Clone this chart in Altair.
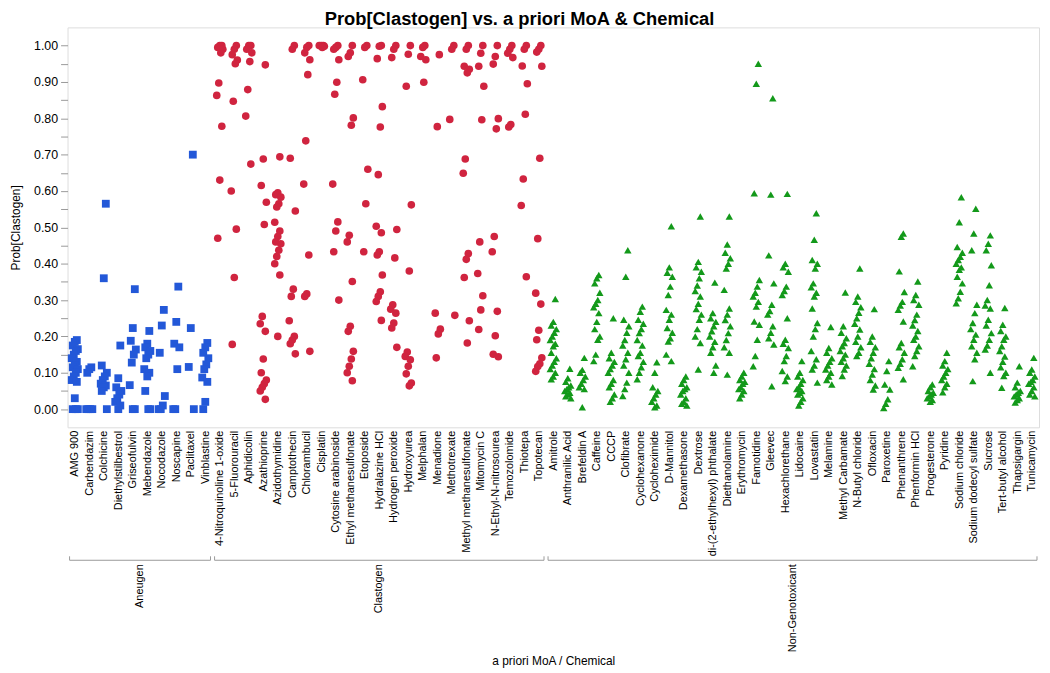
import json
import altair as alt
import pandas as pd

FONT = "Liberation Sans"

GROUPS = ["Aneugen", "Clastogen", "Non-Genotoxicant"]
COLORS = ["#2358d8", "#d0243f", "#13991a"]
SHAPES = ["square", "circle", "triangle-up"]
SIZES = [62, 56, 72]

ANEUGEN = ["AMG 900", "Carbendazim", "Colchicine", "Diethylstilbestrol", "Griseofulvin",
           "Mebendazole", "Nocodazole", "Noscapine", "Paclitaxel", "Vinblastine"]
ANEUGEN_P = [
    [0.19, 0.185, 0.175, 0.165, 0.16, 0.15, 0.14, 0.13, 0.12, 0.115, 0.11, 0.10, 0.09, 0.08, 0.075, 0.03, 0.0, 0.0, 0.0],
    [0.115, 0.11, 0.10, 0.0, 0.0, 0.0, 0.0],
    [0.565, 0.36, 0.12, 0.10, 0.09, 0.08, 0.07, 0.065, 0.06, 0.05, 0.0],
    [0.175, 0.085, 0.06, 0.05, 0.04, 0.03, 0.02, 0.01, 0.0],
    [0.33, 0.223, 0.188, 0.164, 0.15, 0.128, 0.066, 0.0, 0.0],
    [0.215, 0.18, 0.17, 0.16, 0.15, 0.14, 0.11, 0.10, 0.09, 0.05, 0.0, 0.0],
    [0.273, 0.23, 0.155, 0.036, 0.01, 0.0, 0.0],
    [0.337, 0.24, 0.18, 0.17, 0.11, 0.0, 0.0],
    [0.70, 0.223, 0.116, 0.0],
    [0.182, 0.17, 0.155, 0.14, 0.123, 0.11, 0.087, 0.075, 0.02, 0.0],
]

CLASTOGEN = ["4-Nitroquinoline 1-oxide", "5-Fluorouracil", "Aphidicolin", "Azathioprine",
             "Azidothymidine", "Camptothecin", "Chlorambucil", "Cisplatin", "Cytosine arabinoside",
             "Ethyl methanesulfonate", "Etoposide", "Hydralazine HCl", "Hydrogen peroxide",
             "Hydroxyurea", "Melphalan", "Menadione", "Methotrexate", "Methyl methanesulfonate",
             "Mitomycin C", "N-Ethyl-N-nitrosourea", "Temozolomide", "Thiotepa", "Topotecan"]
CLASTOGEN_P = [
    [1.0, 1.0, 0.995, 0.99, 0.98, 0.897, 0.863, 0.778, 0.63, 0.47],
    [1.0, 0.99, 0.975, 0.96, 0.95, 0.847, 0.60, 0.495, 0.362, 0.178],
    [1.0, 1.0, 0.99, 0.98, 0.956, 0.879, 0.806, 0.674],
    [0.947, 0.688, 0.615, 0.569, 0.508, 0.255, 0.235, 0.214, 0.138, 0.10, 0.08, 0.07, 0.06, 0.05, 0.027],
    [0.694, 0.595, 0.59, 0.583, 0.565, 0.556, 0.514, 0.49, 0.475, 0.46, 0.455, 0.437, 0.42, 0.40, 0.369, 0.20],
    [1.0, 0.99, 0.69, 0.545, 0.33, 0.31, 0.243, 0.20, 0.19, 0.18, 0.152],
    [1.0, 0.995, 0.98, 0.961, 0.92, 0.738, 0.619, 0.424, 0.317, 0.31, 0.159],
    [1.0, 1.0, 1.0, 0.998, 0.995],
    [1.0, 0.995, 0.99, 0.961, 0.899, 0.866, 0.619, 0.515, 0.49, 0.433, 0.30],
    [1.0, 0.98, 0.97, 0.801, 0.781, 0.478, 0.46, 0.351, 0.228, 0.214, 0.159, 0.138, 0.118, 0.10, 0.078],
    [1.0, 0.995, 0.906, 0.66, 0.565, 0.433],
    [1.0, 0.998, 0.964, 0.832, 0.776, 0.645, 0.503, 0.485, 0.433, 0.424, 0.369, 0.323, 0.31, 0.296, 0.244],
    [1.0, 0.99, 0.967, 0.494, 0.416, 0.287, 0.275, 0.264, 0.237, 0.223, 0.17],
    [1.0, 0.976, 0.888, 0.562, 0.38, 0.157, 0.145, 0.136, 0.118, 0.097, 0.072, 0.064],
    [1.0, 0.995, 0.97, 0.961, 0.899],
    [0.975, 0.777, 0.264, 0.22, 0.207, 0.141],
    [1.0, 0.99, 0.797, 0.258],
    [1.0, 0.99, 0.943, 0.935, 0.925, 0.688, 0.649, 0.428, 0.412, 0.362, 0.243, 0.182],
    [1.0, 0.979, 0.943, 0.888, 0.796, 0.46, 0.373, 0.312, 0.273, 0.219],
    [1.0, 0.97, 0.949, 0.799, 0.771, 0.475, 0.433, 0.269, 0.202, 0.151, 0.144],
    [1.0, 0.99, 0.979, 0.967, 0.783, 0.776],
    [1.0, 0.99, 0.944, 0.895, 0.811, 0.633, 0.56, 0.364],
    [1.0, 0.99, 0.982, 0.943, 0.69, 0.469, 0.319, 0.289, 0.217, 0.191, 0.141, 0.125, 0.117, 0.104],
]

NONGENO = ["Amitrole", "Anthranilic Acid", "Brefeldin A", "Caffeine", "CCCP", "Clofibrate",
           "Cyclohexanone", "Cycloheximide", "D-Mannitol", "Dexamethasone", "Dextrose",
           "di-(2-ethylhexyl) phthalate", "Diethanolamine", "Erythromycin", "Famotidine", "Gleevec",
           "Hexachlorethane", "Lidocaine", "Lovastatin", "Melamine", "Methyl Carbamate",
           "N-Butyl chloride", "Ofloxacin", "Paroxetine", "Phenanthrene", "Phenformin HCl",
           "Progesterone", "Pyridine", "Sodium chloride", "Sodium dodecyl sulfate", "Sucrose",
           "Tert-butyl alcohol", "Thapsigargin", "Tunicamycin"]
NONGENO_P = [
    [0.303, 0.24, 0.23, 0.22, 0.21, 0.2, 0.19, 0.18, 0.173, 0.155, 0.14, 0.13, 0.12, 0.11, 0.10, 0.09, 0.082],
    [0.111, 0.085, 0.075, 0.065, 0.06, 0.055, 0.05, 0.045, 0.04, 0.035, 0.03],
    [0.141, 0.108, 0.10, 0.09, 0.08, 0.07, 0.06, 0.055, 0.005],
    [0.369, 0.36, 0.346, 0.32, 0.30, 0.29, 0.28, 0.264, 0.24, 0.22, 0.2, 0.191, 0.15, 0.132],
    [0.25, 0.155, 0.14, 0.13, 0.12, 0.11, 0.10, 0.08, 0.07, 0.06, 0.04, 0.03, 0.02],
    [0.437, 0.364, 0.246, 0.228, 0.21, 0.19, 0.175, 0.155, 0.137, 0.12, 0.10, 0.073, 0.055, 0.036],
    [0.282, 0.268, 0.246, 0.235, 0.22, 0.209, 0.19, 0.175, 0.155, 0.146, 0.13, 0.115, 0.10, 0.082],
    [0.129, 0.10, 0.06, 0.05, 0.04, 0.03, 0.02, 0.01, 0.005],
    [0.503, 0.39, 0.375, 0.364, 0.337, 0.314, 0.273, 0.26, 0.246, 0.223, 0.21, 0.195, 0.186, 0.15, 0.132],
    [0.09, 0.08, 0.07, 0.06, 0.055, 0.05, 0.04, 0.03, 0.02, 0.015, 0.01],
    [0.53, 0.405, 0.39, 0.378, 0.36, 0.34, 0.325, 0.31, 0.29, 0.275, 0.26, 0.246, 0.22, 0.20, 0.182, 0.109],
    [0.348, 0.264, 0.25, 0.24, 0.228, 0.214, 0.2, 0.185, 0.17, 0.155, 0.12, 0.10],
    [0.53, 0.453, 0.43, 0.415, 0.40, 0.387, 0.328, 0.277, 0.26, 0.245, 0.228, 0.209, 0.19, 0.17, 0.155, 0.095],
    [0.10, 0.09, 0.08, 0.075, 0.07, 0.06, 0.055, 0.05, 0.04, 0.03],
    [0.95, 0.895, 0.594, 0.355, 0.337, 0.32, 0.31, 0.295, 0.282, 0.241, 0.232, 0.191, 0.146, 0.118],
    [0.855, 0.59, 0.423, 0.346, 0.287, 0.27, 0.26, 0.228, 0.21, 0.195, 0.178, 0.063],
    [0.592, 0.40, 0.39, 0.378, 0.337, 0.325, 0.314, 0.25, 0.191, 0.18, 0.168, 0.146, 0.132, 0.105, 0.09, 0.077],
    [0.132, 0.10, 0.09, 0.08, 0.07, 0.06, 0.055, 0.05, 0.045, 0.04, 0.03, 0.02, 0.01],
    [0.539, 0.466, 0.41, 0.40, 0.387, 0.346, 0.335, 0.32, 0.31, 0.277, 0.237, 0.22, 0.2, 0.16, 0.137, 0.12, 0.109, 0.073],
    [0.226, 0.168, 0.155, 0.14, 0.13, 0.12, 0.109, 0.10, 0.09, 0.08, 0.068],
    [0.321, 0.228, 0.21, 0.195, 0.182, 0.173, 0.16, 0.15, 0.14, 0.13, 0.12, 0.109, 0.091],
    [0.387, 0.31, 0.295, 0.28, 0.265, 0.25, 0.235, 0.219, 0.2, 0.185, 0.17, 0.155, 0.146],
    [0.275, 0.20, 0.185, 0.17, 0.155, 0.14, 0.125, 0.11, 0.095, 0.08, 0.065, 0.054],
    [0.132, 0.105, 0.068, 0.054, 0.027, 0.015, 0.003],
    [0.483, 0.474, 0.379, 0.322, 0.295, 0.285, 0.273, 0.241, 0.182, 0.17, 0.155, 0.137, 0.125, 0.114, 0.082],
    [0.351, 0.314, 0.30, 0.287, 0.26, 0.245, 0.23, 0.215, 0.2, 0.191, 0.173, 0.16, 0.146, 0.118],
    [0.068, 0.06, 0.05, 0.045, 0.04, 0.035, 0.03, 0.025, 0.02],
    [0.155, 0.132, 0.12, 0.11, 0.10, 0.09, 0.08, 0.07, 0.06, 0.046],
    [0.583, 0.514, 0.446, 0.43, 0.419, 0.41, 0.40, 0.39, 0.383, 0.364, 0.346, 0.323, 0.305, 0.291],
    [0.551, 0.483, 0.437, 0.287, 0.264, 0.237, 0.22, 0.205, 0.191, 0.173, 0.155, 0.137, 0.077],
    [0.478, 0.455, 0.437, 0.396, 0.341, 0.30, 0.285, 0.277, 0.246, 0.23, 0.209, 0.191, 0.175, 0.164, 0.10],
    [0.278, 0.232, 0.215, 0.2, 0.191, 0.173, 0.16, 0.145, 0.13, 0.115, 0.10, 0.091, 0.059],
    [0.118, 0.073, 0.06, 0.05, 0.045, 0.04, 0.035, 0.03, 0.025, 0.018],
    [0.141, 0.109, 0.10, 0.09, 0.08, 0.075, 0.07, 0.06, 0.05, 0.04, 0.035],
]

# ---- build tables ----
rows = []
group_rows = []
names = []
idx = 0
for g, chems, vals in zip(GROUPS, [ANEUGEN, CLASTOGEN, NONGENO], [ANEUGEN_P, CLASTOGEN_P, NONGENO_P]):
    start = idx
    for c, vs in zip(chems, vals):
        names.append(c)
        for v in vs:
            rows.append({"chemical": c, "idx": idx, "group": g, "p": v})
        idx += 1
    group_rows.append({"group": g, "start": start, "end": idx - 1})
df = pd.DataFrame(rows)
gdf = pd.DataFrame(group_rows)
n = len(names)

W, H = 979, 403
xscale = alt.Scale(domain=[-0.5, n - 0.5], nice=False, zero=False)
yscale = alt.Scale(domain=[-0.05, 1.05], nice=False, zero=False)

x_label_expr = json.dumps(names) + "[round(datum.value)]"
y_label_expr = "(round(datum.value * 100) % 10 == 0) ? format(datum.value, '.2f') : ''"

X_TITLE = "a priori MoA / Chemical"
x_axis = alt.Axis(values=list(range(n)), labelExpr=x_label_expr, labelAngle=-90,
                  labelOverlap=False, labelFlush=False, labelBound=False,
                  ticks=False, domain=False, grid=False, labelFontSize=11,
                  labelPadding=3, labelColor="#000", labelFont=FONT,
                  title=X_TITLE, titleFont=FONT, titleFontSize=12,
                  titleFontWeight="normal", titleColor="#000",
                  titleX=W / 2, titleY=239, titleAlign="center",
                  titleBaseline="alphabetic")

points = alt.Chart(df).transform_window(
    rn="row_number()", groupby=["chemical"]
).transform_calculate(
    xj="datum.idx + ((datum.rn * 5) % 7 - 3) * 0.07"
).mark_point(filled=True, opacity=1, strokeWidth=0).encode(
    x=alt.X("xj:Q", scale=xscale, axis=x_axis, title=X_TITLE),
    y=alt.Y("p:Q", scale=yscale,
            axis=alt.Axis(values=[round(i * 0.05, 2) for i in range(21)], labelExpr=y_label_expr,
                          tickSize=7, tickColor="#999", domain=False, grid=False,
                          labelFontSize=12.5, labelFont=FONT, labelColor="#000", labelPadding=3,
                          title="Prob[Clastogen]", titleFont=FONT, titleFontSize=12,
                          titleFontWeight="normal", titleColor="#000",
                          titleX=-52, titleY=H / 2, titleAngle=270, titleAlign="center",
                          titleBaseline="middle")),
    color=alt.Color("group:N", scale=alt.Scale(domain=GROUPS, range=COLORS), legend=None),
    shape=alt.Shape("group:N", scale=alt.Scale(domain=GROUPS, range=SHAPES), legend=None),
    size=alt.Size("group:N", scale=alt.Scale(domain=GROUPS, range=SIZES), legend=None),
)

brackets = alt.Chart(gdf).transform_calculate(
    x0="datum.start - 0.36", x1="datum.end + 0.36"
).mark_rule(color="#9a9a9a", strokeWidth=1).encode(
    x=alt.X("x0:Q", scale=xscale, axis=x_axis, title=X_TITLE),
    x2="x1:Q",
    y=alt.value(H + 134),
)

bracket_ends = alt.Chart(gdf).transform_calculate(
    x0="datum.start - 0.36", x1="datum.end + 0.36"
).transform_fold(["x0", "x1"], as_=["side", "xe"]).mark_rule(
    color="#9a9a9a", strokeWidth=1
).encode(
    x=alt.X("xe:Q", scale=xscale, axis=x_axis, title=X_TITLE),
    y=alt.value(H + 130),
    y2=alt.value(H + 134),
)

group_labels = alt.Chart(gdf).transform_calculate(
    xm="(datum.start + datum.end) / 2"
).mark_text(angle=270, align="right", baseline="middle", fontSize=11, font=FONT,
            color="#000").encode(
    x=alt.X("xm:Q", scale=xscale, axis=x_axis, title=X_TITLE),
    y=alt.value(H + 138),
    text="group:N",
)

chart = alt.layer(points, brackets, bracket_ends, group_labels).properties(
    width=W,
    height=H,
    autosize=alt.AutoSizeParams(type="none"),
    padding={"left": 60, "top": 17, "right": 3, "bottom": 240},
    title=alt.TitleParams("Prob[Clastogen] vs. a priori MoA & Chemical", font=FONT,
                          fontSize=18.5, fontWeight="bold", color="#000", anchor="middle",
                          frame="group", dx=-34, offset=1, dy=2),
).configure_view(stroke="#9a9a9a", strokeWidth=1).configure(background="white")

chart.save("out.html", embed_options={"renderer": "svg", "actions": False})
